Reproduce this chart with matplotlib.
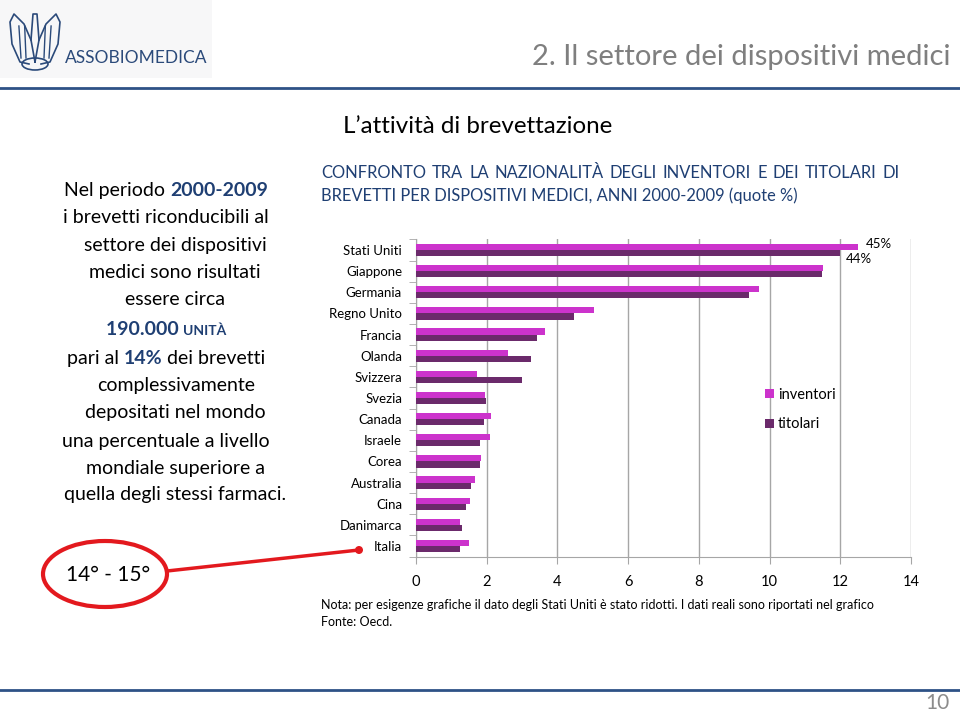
import matplotlib
matplotlib.use('Agg')
import matplotlib.pyplot as plt
from matplotlib.patches import Ellipse, Rectangle, Arc
from matplotlib.lines import Line2D
import numpy as np

plt.rcParams['font.family'] = ['Lato', 'DejaVu Sans']

# data
paesi = ['Stati Uniti', 'Giappone', 'Germania', 'Regno Unito', 'Francia', 'Olanda',
         'Svizzera', 'Svezia', 'Canada', 'Israele', 'Corea', 'Australia', 'Cina',
         'Danimarca', 'Italia']
inventori = [12.5, 11.5, 9.7, 5.03, 3.66, 2.6, 1.73, 1.96, 2.12, 2.1, 1.83, 1.66, 1.53, 1.25, 1.5]
titolari = [12.0, 11.48, 9.43, 4.46, 3.42, 3.24, 3.0, 1.99, 1.93, 1.82, 1.82, 1.56, 1.4, 1.31, 1.24]
usa_reali = ['45%', '44%']  # real US values (bars are shortened)
xticks = [0, 2, 4, 6, 8, 10, 12, 14]

inv_color = '#CC33CC'
tit_color = '#6B2A6B'
blue = '#1F3F73'
grey = '#A6A6A6'
logo_blue = '#2B4A7A'

W, H = 960, 714
fig = plt.figure(figsize=(W / 100, H / 100), dpi=100)


def P(x, y):
    return (x / W, 1 - y / H)


def ftext(x, y, s, **kw):
    return fig.text(*P(x, y), s, **kw)


def fline(xs, ys, **kw):
    pts = [P(x, y) for x, y in zip(xs, ys)]
    fig.lines.append(Line2D([p[0] for p in pts], [p[1] for p in pts],
                            transform=fig.transFigure, **kw))


renderer = fig.canvas.get_renderer()

# ---------- header ----------
fig.patches.append(Rectangle(P(0, 78), 212 / W, 78 / H, transform=fig.transFigure,
                             facecolor='#F7F7F8', edgecolor='none', zorder=0))
# rough eagle of the logo
fline([35, 31, 33, 37, 39, 35], [62, 40, 14, 14, 40, 62], color=logo_blue, lw=1.2)
fline([31, 24, 14, 10, 12, 20, 29], [40, 24, 14, 22, 44, 62, 64], color=logo_blue, lw=1.2)
fline([39, 46, 56, 60, 58, 50, 41], [40, 24, 14, 22, 44, 62, 64], color=logo_blue, lw=1.2)
for dx in [-14, -9, 9, 14]:
    fline([35 + dx, 35 + dx * 1.15], [58, 26], color=logo_blue, lw=1.0)
fig.patches.append(Ellipse(P(35, 64), 26 / W, 12 / H, transform=fig.transFigure,
                           facecolor='none', edgecolor=logo_blue, lw=1.2))
ftext(65, 63, 'ASSOBIOMEDICA', fontsize=12.5, color=logo_blue, va='baseline')
fline([0, W], [88, 88], color='#2E5286', lw=2)
ftext(950, 65, '2. Il settore dei dispositivi medici', fontsize=21, color='#7F7F7F',
      ha='right', va='baseline')
ftext(343, 133, 'L\u2019attività di brevettazione', fontsize=17.4, color='black', va='baseline')

# chart title, first line justified between 321 and 900
parole = 'CONFRONTO TRA LA NAZIONALITÀ DEGLI INVENTORI E DEI TITOLARI DI'.split()
objs = [ftext(0, 178, w, fontsize=11.9, color=blue, va='baseline') for w in parole]
wd = [o.get_window_extent(renderer).width for o in objs]
gap = (900 - 321 - sum(wd)) / (len(parole) - 1)
x = 321
for o, w in zip(objs, wd):
    o.set_x(x / W)
    x += w + gap
ftext(321, 201, 'BREVETTI PER DISPOSITIVI MEDICI, ANNI 2000-2009 (quote %)',
      fontsize=11.9, color=blue, va='baseline')

# ---------- left text ----------
fs = 14
righe = [
    (166, 196, [('Nel periodo ', 'black', 'normal', fs), ('2000-2009', blue, 'bold', fs)]),
    (166, 223, [('i brevetti riconducibili al', 'black', 'normal', fs)]),
    (175, 251, [('settore dei dispositivi', 'black', 'normal', fs)]),
    (175, 278, [('medici sono risultati', 'black', 'normal', fs)]),
    (175, 305, [('essere circa', 'black', 'normal', fs)]),
    (166, 335, [('190.000 ', blue, 'bold', fs), ('UNITÀ', blue, 'bold', 10)]),
    (166, 364, [('pari al ', 'black', 'normal', fs), ('14%', blue, 'bold', fs),
                (' dei brevetti', 'black', 'normal', fs)]),
    (176, 391, [('complessivamente', 'black', 'normal', fs)]),
    (175, 418, [('depositati nel mondo', 'black', 'normal', fs)]),
    (166, 447, [('una percentuale a livello', 'black', 'normal', fs)]),
    (175, 474, [('mondiale superiore a', 'black', 'normal', fs)]),
    (175, 500, [('quella degli stessi farmaci.', 'black', 'normal', fs)]),
]
for cx, y, pezzi in righe:
    objs = []
    for s, c, w, f in pezzi:
        objs.append(ftext(0, y, s, color=c, fontweight=w, fontsize=f, va='baseline'))
    widths = [o.get_window_extent(renderer).width for o in objs]
    x = cx - sum(widths) / 2
    for o, w in zip(objs, widths):
        o.set_x(x / W)
        x += w

ftext(108, 581, '14° - 15°', fontsize=15, color='black', ha='center', va='baseline')
fig.patches.append(Ellipse(P(105, 574), 124 / W, 66 / H, transform=fig.transFigure,
                           facecolor='none', edgecolor='#E3191E', lw=3))
fline([167, 359], [571, 550], color='#E3191E', lw=2.5)
fig.patches.append(Ellipse(P(359, 550), 8 / W, 8 / H, transform=fig.transFigure,
                           facecolor='#E3191E', edgecolor='none'))

# ---------- chart ----------
x0, x1 = 416, 911
yt, yb = 239.4, 556.6
ax = fig.add_axes([x0 / W, 1 - yb / H, (x1 - x0) / W, (yb - yt) / H])
pos = np.arange(len(paesi))
h = 0.29
ax.barh(pos - h / 2, inventori, height=h, color=inv_color, label='inventori', zorder=3)
ax.barh(pos + h / 2, titolari, height=h, color=tit_color, label='titolari', zorder=3)
ax.set_ylim(len(paesi) - 0.5, -0.5)
ax.set_xlim(0, 14)
ax.set_xticks(xticks)
ax.set_yticks(pos)
ax.set_yticklabels(paesi, fontsize=9.5)
ax.set_yticks(np.arange(len(paesi) + 1) - 0.5, minor=True)
ax.tick_params(axis='y', which='major', length=0, pad=10)
ax.tick_params(axis='y', which='minor', length=5, color=grey, direction='out')
ax.tick_params(axis='x', length=5, color=grey, labelsize=10.5, pad=8)
ax.xaxis.grid(True, color=grey, lw=1, zorder=0)
for s in ['top', 'right']:
    ax.spines[s].set_visible(False)
for s in ['left', 'bottom']:
    ax.spines[s].set_color(grey)
ax.text(inventori[0] + 0.22, -0.3, usa_reali[0], fontsize=9.5, va='center')
ax.text(titolari[0] + 0.15, 0.42, usa_reali[1], fontsize=9.5, va='center')

ax.legend(loc='upper left', bbox_to_anchor=((765 - x0) / (x1 - x0), 1 - (388 - yt) / (yb - yt)),
          frameon=False, fontsize=10.5, handlelength=0.6, handleheight=0.6,
          handletextpad=0.3, labelspacing=1.05, borderaxespad=0, borderpad=0)

ftext(321, 609, 'Nota: per esigenze grafiche il dato degli Stati Uniti è stato ridotti. I dati reali sono riportati nel grafico',
      fontsize=9, color='black', va='baseline')
ftext(321, 626, 'Fonte: Oecd.', fontsize=9, color='black', va='baseline')

# ---------- footer ----------
fline([0, W], [690, 690], color='#2E5286', lw=2)
ftext(950, 713, '10', fontsize=15, color='#8C8C8C', ha='right', va='bottom')

plt.savefig('out.png', dpi=100)
plt.close()
